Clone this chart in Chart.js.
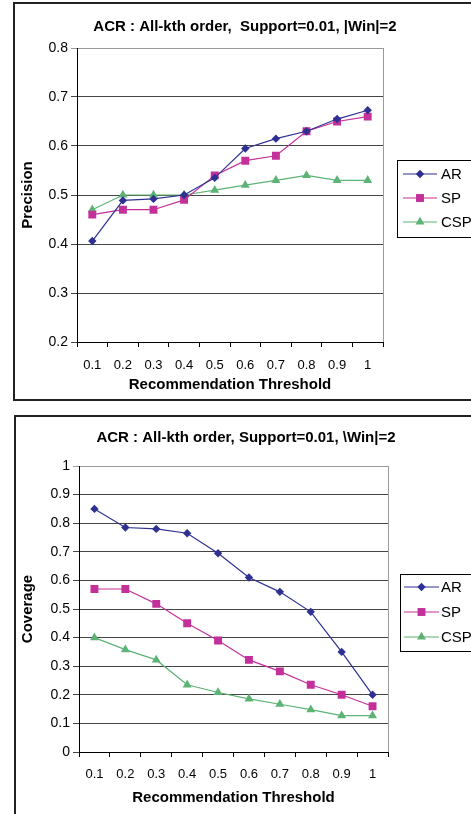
<!DOCTYPE html>
<html><head><meta charset="utf-8">
<script src="https://cdn.jsdelivr.net/npm/chart.js@4.4.1/dist/chart.umd.min.js"></script>
<style>
html,body{margin:0;padding:0;background:#fff;width:471px;height:814px;overflow:hidden;position:relative;}
.frame{position:absolute;box-sizing:border-box;}
#f1{left:13px;top:2px;width:520px;height:399px;border:2px solid #222;}
#f2{left:14px;top:415px;width:520px;height:430px;border-left:2px solid #222;border-top:2px solid #222;}
.wrap{position:absolute;left:0;width:471px;}
#w1{top:0;height:400px;}
#w2{top:400px;height:414px;}
canvas{display:block;}
</style></head>
<body>
<div class="frame" id="f1"></div>
<div class="frame" id="f2"></div>
<div class="wrap" id="w1"><canvas id="c1" width="471" height="400"></canvas></div>
<div class="wrap" id="w2"><canvas id="c2" width="471" height="414"></canvas></div>
<script>
// ---- data ----
const thresholds = ['0.1','0.2','0.3','0.4','0.5','0.6','0.7','0.8','0.9','1'];
const seriesNames = ['AR','SP','CSP'];
const precisionAR  = [0.406,0.489,0.492,0.500,0.535,0.595,0.615,0.630,0.655,0.673];
const precisionSP  = [0.460,0.470,0.470,0.490,0.540,0.570,0.580,0.630,0.650,0.660];
const precisionCSP = [0.470,0.500,0.500,0.500,0.510,0.520,0.530,0.540,0.530,0.530];
const coverageAR   = [0.850,0.785,0.780,0.765,0.695,0.610,0.560,0.490,0.350,0.200];
const coverageSP   = [0.570,0.570,0.518,0.450,0.390,0.322,0.282,0.235,0.200,0.160];
const coverageCSP  = [0.400,0.358,0.322,0.235,0.208,0.186,0.167,0.148,0.127,0.127];
const precisionTicks = {min:0.2, max:0.8, step:0.1};
const coverageTicks  = {min:0, max:1, step:0.1};
const title1 = 'ACR : All-kth order,  Support=0.01, |Win|=2';
const title2 = 'ACR : All-kth order, Support=0.01, \\Win|=2';
const xTitle = 'Recommendation Threshold';

// ---- styles ----
const FONT = '"Liberation Sans", Arial, sans-serif';
const styles = [
  {color:'#2E3192', pointStyle:'rectRot', radius:4.2},
  {color:'#C4309A', pointStyle:'rect', radius:5.6},
  {color:'#5DB375', pointStyle:'triangle', radius:5.2}
];

function drawMarker(ctx, st, x, y){
  ctx.save();
  ctx.fillStyle = st.color;
  ctx.beginPath();
  const r = st.radius;
  if (st.pointStyle === 'rectRot') {
    ctx.moveTo(x, y - r); ctx.lineTo(x + r, y); ctx.lineTo(x, y + r); ctx.lineTo(x - r, y);
  } else if (st.pointStyle === 'rect') {
    const s = r * Math.SQRT1_2;
    ctx.rect(x - s, y - s, 2 * s, 2 * s);
  } else {
    ctx.moveTo(x, y - r);
    ctx.lineTo(x + r * Math.sin(Math.PI*2/3), y - r * Math.cos(Math.PI*2/3));
    ctx.lineTo(x - r * Math.sin(Math.PI*2/3), y - r * Math.cos(Math.PI*2/3));
  }
  ctx.closePath();
  ctx.fill();
  ctx.restore();
}

function makeChart(id, cfg) {
  const datasets = cfg.series.map((vals, i) => ({
    label: seriesNames[i],
    data: vals,
    borderColor: styles[i].color,
    backgroundColor: styles[i].color,
    borderWidth: 1.2,
    pointStyle: styles[i].pointStyle,
    pointRadius: styles[i].radius,
    pointBorderWidth: 0,
    pointBackgroundColor: styles[i].color,
    tension: 0,
    fill: false
  }));
  const decor = {
    id: 'decor',
    afterDraw(chart) {
      const ctx = chart.ctx;
      const a = chart.chartArea;
      ctx.save();
      ctx.strokeStyle = '#9a9a9a';
      ctx.lineWidth = 1;
      ctx.beginPath();
      ctx.moveTo(Math.round(a.right) + 0.5, a.top);
      ctx.lineTo(Math.round(a.right) + 0.5, a.bottom);
      ctx.stroke();
      ctx.fillStyle = '#000';
      ctx.font = 'bold 15px ' + FONT;
      ctx.textAlign = 'center';
      ctx.textBaseline = 'middle';
      ctx.fillText(cfg.title, cfg.titleX, cfg.titleY);
      const L = cfg.legend;
      ctx.fillStyle = '#fff';
      ctx.fillRect(L.x, L.y, 200, L.h);
      ctx.strokeStyle = '#000';
      ctx.lineWidth = 1;
      ctx.strokeRect(L.x + 0.5, L.y + 0.5, 200, L.h);
      ctx.font = '15px ' + FONT;
      ctx.textAlign = 'left';
      seriesNames.forEach((n, i) => {
        const yy = L.rows[i];
        ctx.strokeStyle = styles[i].color;
        ctx.lineWidth = 1.2;
        ctx.beginPath();
        ctx.moveTo(L.x1, yy); ctx.lineTo(L.x2, yy); ctx.stroke();
        drawMarker(ctx, styles[i], (L.x1 + L.x2) / 2, yy);
        ctx.fillStyle = '#000';
        ctx.fillText(n, L.tx, yy + 1);
      });
      ctx.restore();
    }
  };
  return new Chart(document.getElementById(id), {
    type: 'line',
    data: { labels: thresholds, datasets },
    options: {
      responsive: false,
      animation: false,
      devicePixelRatio: 1,
      layout: { padding: { left: 0, top: cfg.area.top, right: 471 - cfg.area.right, bottom: 0 } },
      plugins: { legend: { display: false }, title: { display: false }, tooltip: { enabled: false } },
      scales: {
        x: {
          type: 'category',
          offset: true,
          grid: { offset: true, drawOnChartArea: false, tickLength: 5, color: '#000', lineWidth: 1 },
          border: { color: '#000', width: 1 },
          ticks: { color: '#000', font: { family: FONT, size: 13 }, padding: cfg.xPad, maxRotation: 0, autoSkip: false },
          title: { display: true, text: xTitle, color: '#000', font: { family: FONT, size: 15, weight: 'bold' }, padding: { top: 0, bottom: cfg.xTitlePad } },
          afterFit: s => { s.height = cfg.canvasH - cfg.area.bottom; }
        },
        y: {
          min: cfg.ticks.min, max: cfg.ticks.max,
          grid: {
            tickLength: 6,
            color: c => (c.tick && Math.abs(c.tick.value - cfg.ticks.max) < 1e-6) ? '#9a9a9a' : '#444',
            lineWidth: 1
          },
          border: { color: '#000', width: 1 },
          ticks: { stepSize: cfg.ticks.step, color: '#000', font: { family: FONT, size: cfg.yFont }, padding: 3,
                   callback: v => String(+Number(v).toFixed(1)) },
          title: { display: true, text: cfg.yTitle, color: '#000', font: { family: FONT, size: 15, weight: 'bold' }, padding: { top: 19, bottom: 0 } },
          afterFit: s => { s.width = cfg.area.left; }
        }
      }
    },
    plugins: [decor]
  });
}

makeChart('c1', {
  series: [precisionAR, precisionSP, precisionCSP],
  ticks: precisionTicks,
  yTitle: 'Precision',
  title: title1, titleX: 245, titleY: 27,
  area: { left: 77, right: 383, top: 48, bottom: 342 },
  canvasH: 400, xPad: 11, xTitlePad: 6, yFont: 14,
  legend: { x: 397, y: 160, h: 77, rows: [174, 198, 222], x1: 403, x2: 437, tx: 441 }
});

makeChart('c2', {
  series: [coverageAR, coverageSP, coverageCSP],
  ticks: coverageTicks,
  yTitle: 'Coverage',
  title: title2, titleX: 246, titleY: 38,
  area: { left: 79, right: 388, top: 66, bottom: 352 },
  canvasH: 414, xPad: 10, xTitlePad: 7, yFont: 14,
  legend: { x: 400, y: 174, h: 77, rows: [187, 212, 237], x1: 404, x2: 439, tx: 441 }
});
</script>
</body></html>
